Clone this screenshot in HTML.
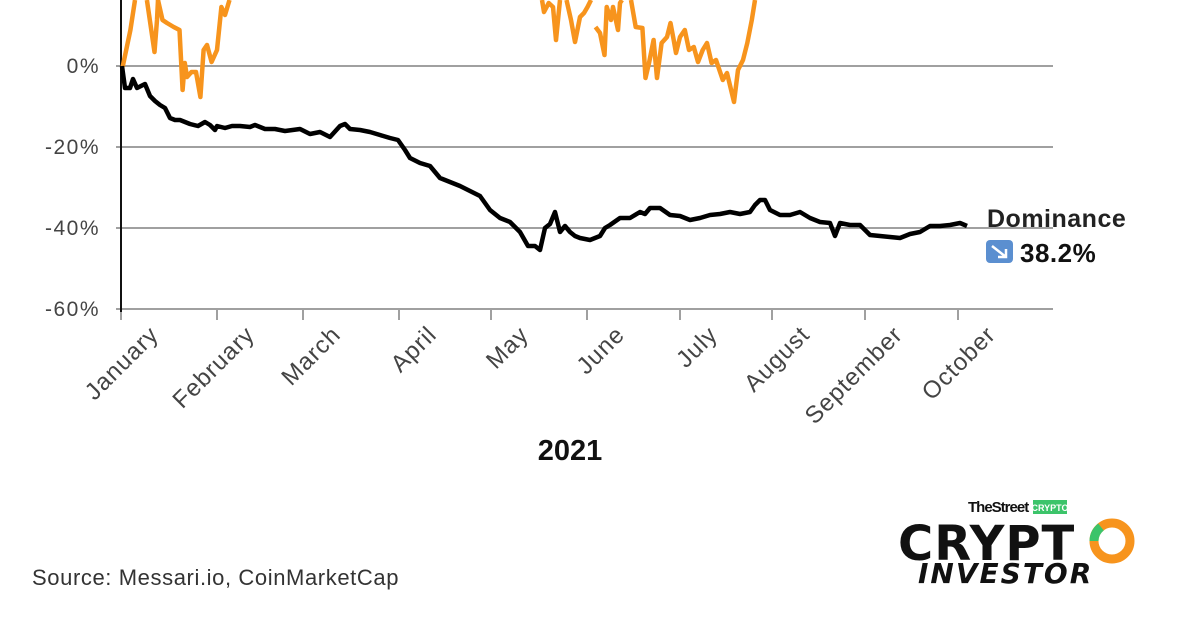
<!DOCTYPE html>
<html><head><meta charset="utf-8"><style>
html,body{margin:0;padding:0;background:#fff;}
body{width:1200px;height:628px;position:relative;overflow:hidden;font-family:"Liberation Sans",sans-serif;}
</style></head><body>
<svg width="1200" height="628" style="position:absolute;left:0;top:0" font-family="Liberation Sans, sans-serif">
<g stroke="#a0a0a0" stroke-width="2">
<line x1="116" y1="66" x2="1053" y2="66"/>
<line x1="116" y1="147" x2="1053" y2="147"/>
<line x1="116" y1="228" x2="1053" y2="228"/>
<line x1="116" y1="309" x2="1053" y2="309"/>
<line x1="121" y1="309" x2="121" y2="320"/><line x1="217" y1="309" x2="217" y2="320"/><line x1="303" y1="309" x2="303" y2="320"/><line x1="399" y1="309" x2="399" y2="320"/><line x1="491" y1="309" x2="491" y2="320"/><line x1="587" y1="309" x2="587" y2="320"/><line x1="680" y1="309" x2="680" y2="320"/><line x1="772" y1="309" x2="772" y2="320"/><line x1="865" y1="309" x2="865" y2="320"/><line x1="958" y1="309" x2="958" y2="320"/>
</g>
<line x1="121" y1="0" x2="121" y2="312" stroke="#111" stroke-width="2"/>
<g font-size="21" fill="#444" text-anchor="end" letter-spacing="1.5">
<text x="100" y="73">0%</text><text x="100" y="154">-20%</text><text x="100" y="235">-40%</text><text x="100" y="316">-60%</text>
</g>
<g fill="none" stroke="#f7941d" stroke-width="4.5" stroke-linejoin="round">
<polyline points="122.7,66.7 130.4,30 135,0"/>
<polyline points="146.9,0 154.5,52 157,20 158,0"/>
<polyline points="158,0 162.5,20 167,23 173.7,27 179.5,30 182.6,90 184.8,63 187,77 191.5,72 196,72 200.4,97 203.6,50 207,45 211.6,62 217,50 221.4,7 225,15 229.5,0"/>
<polyline points="542,0 544,12 548.7,3 553,7 556,40 560,0"/>
<polyline points="566.5,0 571,20 575,42 580,17 584,13 587.5,7 591,0"/>
<polyline points="595.5,27 600,33 604.5,55 606.7,7 611,20 613,7 618,30 620,3 622,0"/>
<polyline points="631,0 635.7,27 642.4,28 645.5,78 649,63 653.6,40 657,78 661.6,43 667,37 670.5,23 673.7,40 676,53 680,37 684.8,30 689,50 693.8,47 698,62 702.7,50 707,43 711.6,63 716,60 722.8,80 727,73 734,102 738,70 743,60 747.3,43 751.8,20 755,0"/>
</g>
<polyline fill="none" stroke="#000" stroke-width="4.5" stroke-linejoin="round" points="122,66 125,88 130,88 133,79 137,88 145,84 150,96 155,101 160,105 165,108 170,118 175,120 180,120 190,124 198,126 205,122 210,125 215,130 217,126 225,128 232,126 240,126 250,127 255,125 265,129 275,129 285,131 300,129 310,134 320,132 330,137 340,126 345,124 350,129 360,130 370,132 380,135 390,138 398,140 405,150 410,158 420,163 430,166 440,178 450,182 460,186 470,191 480,196 490,210 500,218 510,222 520,232 528,246 535,246 540,250 545,228 550,224 555,212 560,232 565,226 570,232 575,236 580,238 590,240 600,236 605,228 610,225 620,218 630,218 640,212 645,214 650,208 660,208 670,215 680,216 690,220 700,218 710,215 720,214 730,212 740,214 750,212 755,205 760,200 765,200 770,210 780,215 790,215 800,212 805,215 810,218 820,222 830,223 835,236 840,223 850,225 860,225 870,235 880,236 890,237 900,238 910,234 920,232 930,226 940,226 950,225 960,223 967,226"/>
<g font-size="24" fill="#444" text-anchor="end" letter-spacing="1">
<text transform="translate(160,336) rotate(-45)">January</text>
<text transform="translate(256,336) rotate(-45)">February</text>
<text transform="translate(342,336) rotate(-45)">March</text>
<text transform="translate(438,336) rotate(-45)">April</text>
<text transform="translate(530,336) rotate(-45)">May</text>
<text transform="translate(626,336) rotate(-45)">June</text>
<text transform="translate(719,336) rotate(-45)">July</text>
<text transform="translate(811,336) rotate(-45)">August</text>
<text transform="translate(904,336) rotate(-45)">September</text>
<text transform="translate(997,336) rotate(-45)">October</text>
</g>
<text x="570" y="460" font-size="29" font-weight="bold" text-anchor="middle" fill="#111">2021</text>
<text x="987" y="227" font-size="25" font-weight="bold" fill="#222" letter-spacing="0.5">Dominance</text>
<rect x="986" y="240" width="27" height="23" rx="4" fill="#5b8fd0"/>
<path d="M992 246 L1006 257 M1006 249 L1006 257 L998 257" stroke="#fff" stroke-width="2.5" fill="none"/>
<text x="1020" y="262" font-size="26" font-weight="bold" fill="#111" letter-spacing="0.5">38.2%</text>
<text x="32" y="585" font-size="22" fill="#333" letter-spacing="0.6">Source: Messari.io, CoinMarketCap</text>
<text x="968" y="512" font-size="15" font-weight="bold" fill="#111" letter-spacing="-1">TheStreet</text>
<rect x="1033" y="500" width="34" height="14" fill="#3cc46a"/>
<text x="1050" y="511" font-size="9" font-weight="bold" fill="#fff" text-anchor="middle">CRYPTO</text>
<text x="898" y="560" font-size="48" font-weight="900" fill="#111" letter-spacing="1" font-family="DejaVu Sans, sans-serif">CRYPT</text>
<circle cx="1112" cy="541" r="18" fill="none" stroke="#f7941d" stroke-width="9"/>
<path d="M1094 541 A18 18 0 0 1 1101 527" stroke="#3cc46a" stroke-width="9" fill="none"/>
<text x="918" y="583" font-size="28" font-weight="900" font-style="italic" fill="#111" letter-spacing="2" font-family="DejaVu Sans, sans-serif">INVESTOR</text>
</svg>
</body></html>
